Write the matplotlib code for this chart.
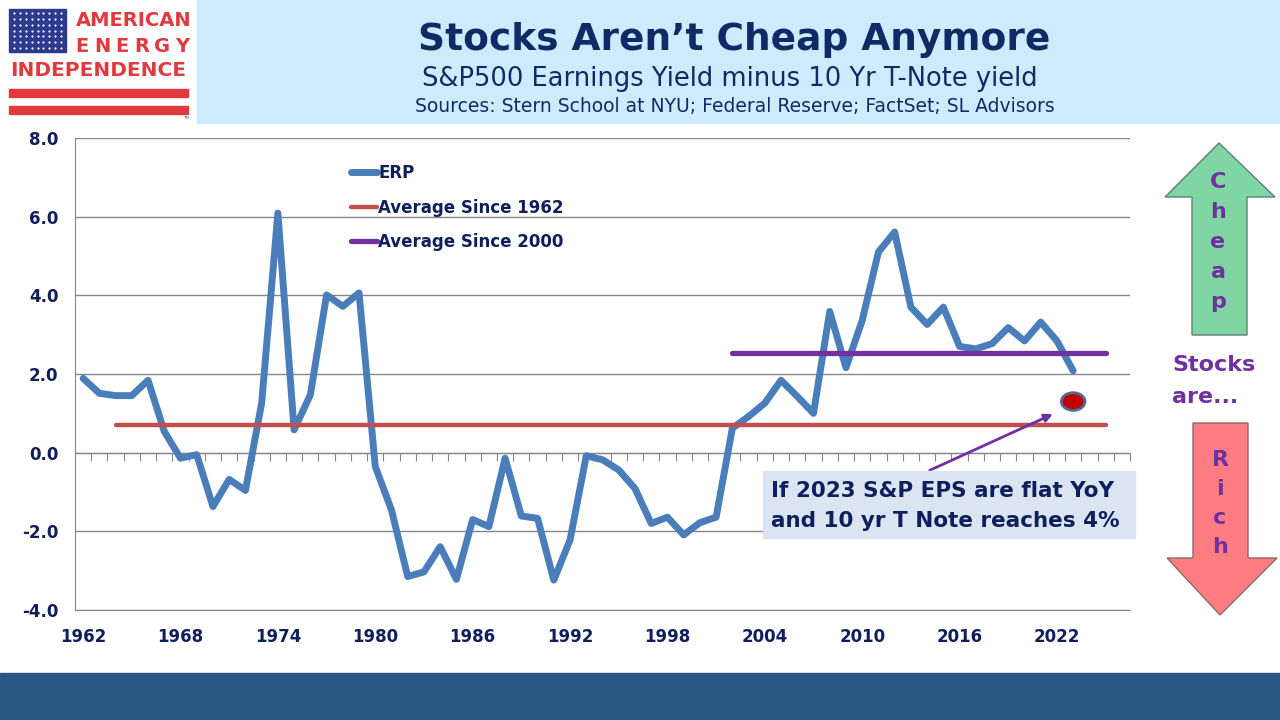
import matplotlib.pyplot as plt
import numpy as np
from matplotlib.patches import Rectangle, Polygon, Ellipse

# ERP = S&P500 earnings yield minus 10 yr T-note yield
years = list(range(1962, 2024))
erp = [1.89, 1.51, 1.45, 1.45, 1.84, 0.54, -0.14, -0.05, -1.37, -0.68,
       -0.96, 1.26, 6.09, 0.58, 1.47, 4.01, 3.72, 4.06, -0.35, -1.46,
       -3.15, -3.03, -2.39, -3.22, -1.70, -1.88, -0.14, -1.61, -1.67, -3.24,
       -2.22, -0.08, -0.18, -0.44, -0.91, -1.80, -1.64, -2.09, -1.78, -1.64,
       0.62, 0.92, 1.26, 1.84, 1.43, 1.00, 3.59, 2.16, 3.36, 5.10,
       5.61, 3.70, 3.26, 3.70, 2.70, 2.64, 2.77, 3.18, 2.84, 3.32, 2.84, 2.08]
avg_since_1962 = 0.70
avg_1962_span = [1964, 2025]
avg_since_2000 = 2.53
avg_2000_span = [2002, 2025]
scenario_year = 2023
scenario_erp = 1.30
year_labels = list(range(1962, 2023, 6))
y_ticks = [-4, -2, 0, 2, 4, 6, 8]

NAVY = '#0F1F5C'
GRID = '#868686'
PURPLE = '#7030A0'
LOGO_RED = '#E2393F'

fig = plt.figure(figsize=(12.8, 7.2), dpi=100)

# chart area
ax = fig.add_axes([75 / 1280, 1 - 610 / 720, 1055 / 1280, 472 / 720])
ax.set_facecolor('none')
ax.set_xlim(1961.5, 2026.5)
ax.set_ylim(-4, 8)

ax.plot(years, erp, color='#4A7EBB', lw=5, solid_joinstyle='round',
        solid_capstyle='round', label='ERP', zorder=3)
ax.plot(avg_1962_span, [avg_since_1962] * 2, color='#C0504D', lw=3.2,
        solid_capstyle='round', label='Average Since 1962', zorder=4)
ax.plot(avg_2000_span, [avg_since_2000] * 2, color=PURPLE, lw=3.8,
        solid_capstyle='round', label='Average Since 2000', zorder=4)
ax.add_patch(Ellipse((scenario_year, scenario_erp), width=1.45, height=0.45,
                     facecolor='#C00000', edgecolor='#4F6A8F', lw=2, zorder=5))
ax.annotate('', xy=(scenario_year - 1.1, scenario_erp - 0.29),
            xytext=(scenario_year - 9, scenario_erp - 1.78),
            arrowprops=dict(arrowstyle='-|>', color=PURPLE, lw=2, mutation_scale=12),
            annotation_clip=False, zorder=6)

# y axis + gridlines
ax.set_yticks(y_ticks)
ax.set_yticklabels([f'{v:.1f}' for v in y_ticks])
ax.grid(axis='y', color=GRID, lw=1)
ax.set_axisbelow(True)
ax.tick_params(axis='y', length=0, pad=12, labelsize=12, labelcolor=NAVY)
for lab in ax.get_yticklabels():
    lab.set_fontweight('bold')

# x labels at the bottom, category tick marks on the zero line
ax.set_xticks(year_labels)
ax.tick_params(axis='x', length=0, pad=13, labelsize=12, labelcolor=NAVY)
for lab in ax.get_xticklabels():
    lab.set_fontweight('bold')
for s in ['top', 'right']:
    ax.spines[s].set_visible(False)
for s in ['left', 'bottom']:
    ax.spines[s].set_color(GRID)

zero_pos = (0 - ax.get_ylim()[0]) / (ax.get_ylim()[1] - ax.get_ylim()[0])
zax = ax.secondary_xaxis(zero_pos)
zax.set_xticks(np.arange(years[0] + 0.5, 2027, 1))
zax.tick_params(length=6, direction='out', color=GRID, labelbottom=False, labeltop=False)
zax.spines['bottom'].set_color(GRID)

leg = ax.legend(loc='upper left', bbox_to_anchor=(0.247, 0.977), frameon=False,
                handlelength=1.6, handletextpad=0.05, labelspacing=1.0,
                prop=dict(weight='bold', size=12), labelcolor=NAVY)

# decorations in pixel coordinates
ov = fig.add_axes([0, 0, 1, 1], zorder=5)
ov.set_xlim(0, 1280)
ov.set_ylim(720, 0)
ov.axis('off')
ov.patch.set_alpha(0)

ov.add_patch(Rectangle((197, 0), 1083, 123, color='#CDEBFC'))
ov.text(734, 40, 'Stocks Aren\u2019t Cheap Anymore', ha='center', va='center',
        fontsize=27, fontweight='bold', color='#112A66')
ov.text(730, 79, 'S&P500 Earnings Yield minus 10 Yr T-Note yield', ha='center',
        va='center', fontsize=18.5, color='#112A66')
ov.text(735, 106, 'Sources: Stern School at NYU; Federal Reserve; FactSet; SL Advisors',
        ha='center', va='center', fontsize=13.5, color='#112A66')

# logo
ov.add_patch(Rectangle((9, 9), 57, 43, color='#2B3A8C'))
sx, sy = np.meshgrid(np.linspace(14, 61, 9), np.linspace(13, 48, 7))
ov.scatter(sx.ravel(), sy.ravel(), s=2.5, color='white', lw=0)
ov.text(76, 21, 'AMERICAN', ha='left', va='center', fontsize=14,
        fontweight='bold', color=LOGO_RED)
for x, ch in zip(np.linspace(82, 182, 6), 'ENERGY'):
    ov.text(x, 46, ch, ha='center', va='center', fontsize=14,
            fontweight='bold', color=LOGO_RED)
ov.text(98, 71, 'INDEPENDENCE', ha='center', va='center', fontsize=14.5,
        fontweight='bold', color=LOGO_RED)
ov.add_patch(Rectangle((9, 89), 179, 8, color=LOGO_RED))
ov.add_patch(Rectangle((9, 106), 179, 8, color=LOGO_RED))
ov.text(186, 118, 'TM', ha='center', va='center', fontsize=3, color='#555555')

# bottom band
ov.add_patch(Rectangle((0, 673), 1280, 47, color='#2A5783'))

# right side arrows
ov.add_patch(Polygon([(1219, 143), (1275, 197), (1247, 197), (1247, 335),
                      (1192, 335), (1192, 197), (1165, 197)],
                     facecolor='#80D6A2', edgecolor='#5E7F7A', lw=1))
for i, ch in enumerate('Cheap'):
    ov.text(1218, 182 + i * 30, ch, ha='center', va='center', fontsize=16,
            fontweight='bold', color=PURPLE)
ov.add_patch(Polygon([(1193, 423), (1248, 423), (1248, 558), (1277, 558),
                      (1220, 615), (1167, 558), (1193, 558)],
                     facecolor='#FF7C80', edgecolor='#8A6A6A', lw=1))
for i, ch in enumerate('Rich'):
    ov.text(1220, 460 + i * 29, ch, ha='center', va='center', fontsize=16,
            fontweight='bold', color=PURPLE)
ov.text(1172, 365, 'Stocks', ha='left', va='center', fontsize=16,
        fontweight='bold', color=PURPLE)
ov.text(1172, 397, 'are...', ha='left', va='center', fontsize=16,
        fontweight='bold', color=PURPLE)

# scenario note
ov.add_patch(Rectangle((763, 471), 372, 67, color='#DBE5F1'))
ov.text(771, 491, 'If 2023 S&P EPS are flat YoY', ha='left', va='center',
        fontsize=15.5, fontweight='bold', color=NAVY)
ov.text(771, 521, 'and 10 yr T Note reaches 4%', ha='left', va='center',
        fontsize=15.5, fontweight='bold', color=NAVY)

fig.savefig('out.png', dpi=100)
